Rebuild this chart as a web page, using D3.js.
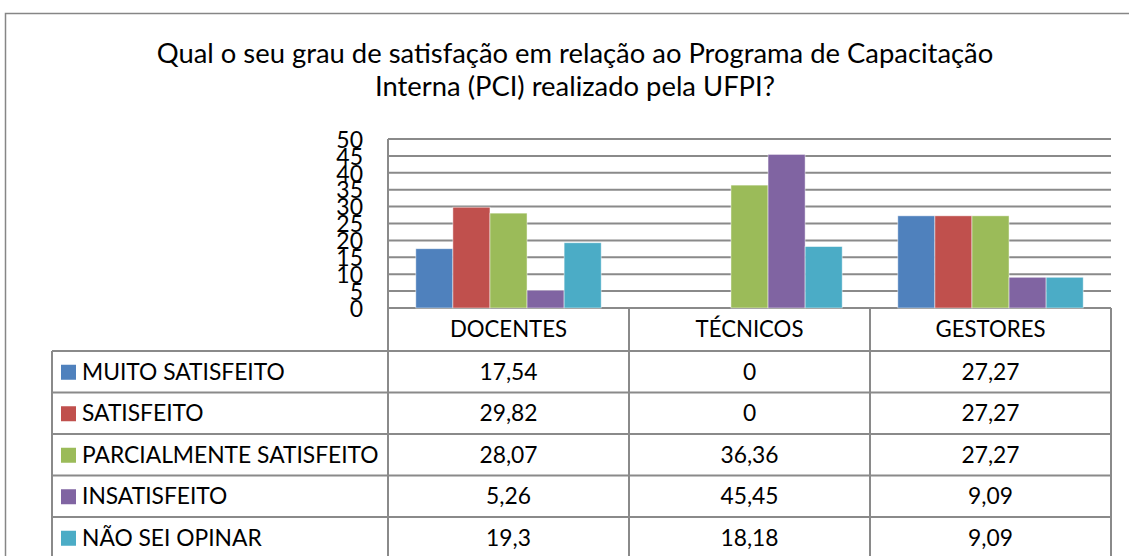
<!DOCTYPE html>
<html>
<head>
<meta charset="utf-8">
<script src="https://cdn.jsdelivr.net/npm/d3@7"></script>
<style>
  html, body { margin: 0; padding: 0; background: #fff; }
  svg { display: block; font-family: Lato, "Open Sans", sans-serif; }
</style>
</head>
<body>
<svg id="chart" width="1129" height="556"></svg>
<script>
// Survey categories (columns of the data table)
const categories = ["DOCENTES", "TÉCNICOS", "GESTORES"];

// Answer options (one bar series each)
const seriesNames = [
  "MUITO SATISFEITO",
  "SATISFEITO",
  "PARCIALMENTE SATISFEITO",
  "INSATISFEITO",
  "NÃO SEI OPINAR"
];

// Percentages per category, in category order
const muitoSatisfeito = [17.54, 0, 27.27];
const satisfeito = [29.82, 0, 27.27];
const parcialmenteSatisfeito = [28.07, 36.36, 27.27];
const insatisfeito = [5.26, 45.45, 9.09];
const naoSeiOpinar = [19.3, 18.18, 9.09];

const yTicks = [0, 5, 10, 15, 20, 25, 30, 35, 40, 45, 50];

const seriesColors = ["#4F81BD", "#C0504D", "#9BBB59", "#8064A2", "#4BACC6"];

const titleLines = [
  "Qual o seu grau de satisfação em relação ao Programa de Capacitação",
  "Interna (PCI) realizado pela UFPI?"
];

const seriesValues = [muitoSatisfeito, satisfeito, parcialmenteSatisfeito, insatisfeito, naoSeiOpinar];
const series = seriesNames.map((name, i) => ({ name, color: seriesColors[i], values: seriesValues[i] }));

const svg = d3.select("#chart");
const lineColor = "#8a8a8a";

// layout
const plot = { left: 388, right: 1111, top: 139, bottom: 308 };
const table = { left: 52, headerBottom: 351, rowH: 41.5 };

// outer frame (extends past the visible area on the right and bottom)
svg.append("rect")
  .attr("x", 5.5).attr("y", 13.5)
  .attr("width", 1200).attr("height", 700)
  .attr("fill", "none").attr("stroke", "#868686").attr("stroke-width", 1.5);

// title
svg.append("text")
  .attr("x", 575).attr("text-anchor", "middle")
  .attr("font-size", 27.4).attr("fill", "#000")
  .selectAll("tspan").data(titleLines).join("tspan")
  .attr("x", 575).attr("y", (d, i) => 63 + i * 33)
  .text(d => d);

// scales
const x = d3.scaleBand().domain(categories).range([plot.left, plot.right]);
const xInner = d3.scaleBand().domain(seriesNames).range([0, x.bandwidth()])
  .paddingInner(0).paddingOuter(0.75);
const y = d3.scaleLinear().domain([0, 50]).range([plot.bottom, plot.top]);

// gridlines
svg.append("g").selectAll("line").data(yTicks).join("line")
  .attr("x1", plot.left).attr("x2", plot.right)
  .attr("y1", d => y(d)).attr("y2", d => y(d))
  .attr("stroke", lineColor).attr("stroke-width", 2);

// y axis labels (tightly stacked, as drawn by the source spreadsheet)
const yAxis = d3.axisLeft(y).tickValues(yTicks).tickSize(0).tickPadding(0).tickFormat(d3.format("d"));
const yg = svg.append("g").attr("transform", `translate(${363},0)`).call(yAxis);
yg.select(".domain").remove();
yg.selectAll("text")
  .attr("font-size", 23).attr("font-family", "Lato, sans-serif")
  .attr("fill", "#000").attr("dy", "0.36em");

// bars
svg.append("g").selectAll("g").data(series).join("g")
  .attr("fill", d => d.color)
  .selectAll("rect").data(s => categories.map((c, i) => ({ c, s: s.name, v: s.values[i] })))
  .join("rect")
  .attr("x", d => x(d.c) + xInner(d.s))
  .attr("width", xInner.bandwidth())
  .attr("y", d => y(d.v))
  .attr("height", d => y(0) - y(d.v))
  .attr("stroke", "rgba(255,255,255,0.6)").attr("stroke-width", 0.8);

// axis line (left)
svg.append("line")
  .attr("x1", plot.left).attr("x2", plot.left)
  .attr("y1", plot.top).attr("y2", 600)
  .attr("stroke", lineColor).attr("stroke-width", 2);

// data table
const nRows = series.length;
const rowTop = i => table.headerBottom + i * table.rowH;
const tableBottom = rowTop(nRows);

// vertical lines of category columns
const colEdges = categories.map(c => x(c)).concat([plot.right]);
svg.append("g").selectAll("line").data(colEdges).join("line")
  .attr("x1", d => d).attr("x2", d => d)
  .attr("y1", plot.bottom).attr("y2", tableBottom)
  .attr("stroke", lineColor).attr("stroke-width", 2);

// left edge of the legend column
svg.append("line")
  .attr("x1", table.left).attr("x2", table.left)
  .attr("y1", table.headerBottom).attr("y2", tableBottom)
  .attr("stroke", lineColor).attr("stroke-width", 2);

// horizontal row lines
svg.append("g").selectAll("line").data(d3.range(nRows + 1)).join("line")
  .attr("x1", table.left).attr("x2", plot.right)
  .attr("y1", i => rowTop(i)).attr("y2", i => rowTop(i))
  .attr("stroke", lineColor).attr("stroke-width", 2);

// header labels
svg.append("g").selectAll("text").data(categories).join("text")
  .attr("x", d => x(d) + x.bandwidth() / 2)
  .attr("y", (plot.bottom + table.headerBottom) / 2)
  .attr("dy", "0.36em")
  .attr("text-anchor", "middle").attr("font-size", 22.2).attr("fill", "#000")
  .text(d => d);

// legend column and values
const rows = svg.append("g").selectAll("g").data(series).join("g")
  .attr("transform", (d, i) => `translate(0,${rowTop(i) + table.rowH / 2})`);

rows.append("rect")
  .attr("x", 61).attr("y", -7).attr("width", 15).attr("height", 15)
  .attr("fill", d => d.color);

rows.append("text")
  .attr("x", 82).attr("dy", "0.36em")
  .attr("font-size", 22.8).attr("fill", "#000")
  .text(d => d.name);

rows.selectAll("text.val").data(d => d.values.map((v, i) => ({ v, c: categories[i] })))
  .join("text").attr("class", "val")
  .attr("x", d => x(d.c) + x.bandwidth() / 2)
  .attr("dy", "0.36em")
  .attr("text-anchor", "middle").attr("font-size", 22.8).attr("fill", "#000")
  .text(d => String(d.v).replace(".", ","));
</script>
</body>
</html>
